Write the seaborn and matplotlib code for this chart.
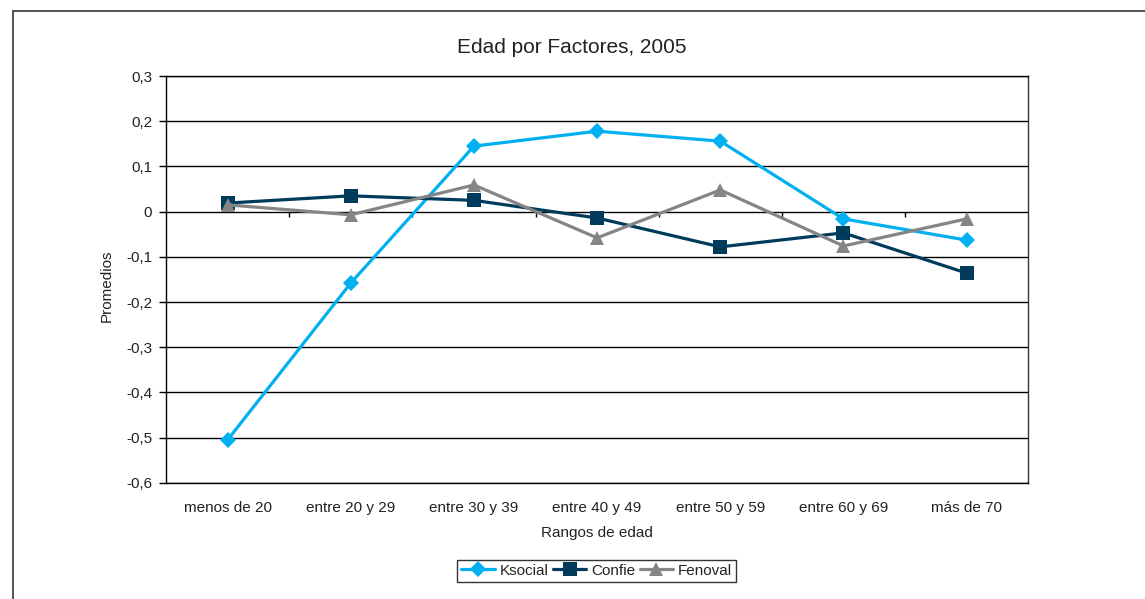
import pandas as pd
import numpy as np
import matplotlib.pyplot as plt
import matplotlib.patches as mpatches
import seaborn as sns

# --- data ---
rangos = ['menos de 20', 'entre 20 y 29', 'entre 30 y 39', 'entre 40 y 49',
          'entre 50 y 59', 'entre 60 y 69', 'más de 70']
ksocial = [-0.505, -0.158, 0.145, 0.178, 0.156, -0.016, -0.063]
confie = [0.019, 0.035, 0.025, -0.014, -0.078, -0.047, -0.136]
fenoval = [0.015, -0.007, 0.059, -0.058, 0.048, -0.076, -0.016]
yticks = [0.3, 0.2, 0.1, 0, -0.1, -0.2, -0.3, -0.4, -0.5, -0.6]
ytick_labels = ['0,3', '0,2', '0,1', '0', '-0,1', '-0,2', '-0,3', '-0,4', '-0,5', '-0,6']

df = pd.DataFrame({'pos': range(len(rangos)), 'Ksocial': ksocial,
                   'Confie': confie, 'Fenoval': fenoval})
long = df.melt(id_vars='pos', var_name='Factor', value_name='Promedio')

# --- style ---
sns.set_style('white')
plt.rcParams['font.family'] = ['Liberation Sans', 'DejaVu Sans']
txt = '#222222'

palette = {'Ksocial': '#00B0F0', 'Confie': '#003B5C', 'Fenoval': '#858585'}
markers = {'Ksocial': 'D', 'Confie': 's', 'Fenoval': '^'}
msizes = {'Ksocial': 8, 'Confie': 9.5, 'Fenoval': 10}

fig = plt.figure(figsize=(11.45, 5.99), dpi=100)
ax = fig.add_axes([0.145, 0.194, 0.753, 0.679])

for name in ['Ksocial', 'Confie', 'Fenoval']:
    sns.lineplot(data=long[long['Factor'] == name], x='pos', y='Promedio',
                 color=palette[name], marker=markers[name], markersize=msizes[name],
                 markeredgewidth=0, linewidth=2.3, label=name, ax=ax, zorder=3)

# horizontal grid
for v in yticks:
    ax.axhline(v, color='black', lw=1.0, zorder=1)
# category boundary ticks on the zero line
ax.vlines(np.arange(0.5, len(rangos) - 1, 1), -0.011, 0, color='black', lw=1.0, zorder=1)

ax.set_xlim(-0.5, len(rangos) - 0.5)
ax.set_ylim(-0.6, 0.3)
ax.set_xticks(range(len(rangos)))
ax.set_xticklabels(rangos, fontsize=11, color=txt)
ax.set_yticks(yticks)
ax.set_yticklabels(ytick_labels, fontsize=11, color=txt)
ax.tick_params(axis='x', length=0, pad=13)
ax.tick_params(axis='y', length=5, width=1, color='black', pad=5, left=True)

for s in ax.spines.values():
    s.set_color('black')
    s.set_linewidth(1.0)
ax.spines['right'].set_color('#333333')

ax.set_xlabel('Rangos de edad', fontsize=11, color=txt, labelpad=8)
ax.set_ylabel('Promedios', fontsize=11, color=txt)
ax.yaxis.set_label_coords(-0.061, 0.485)
fig.text(0.499, 0.921, 'Edad por Factores, 2005', fontsize=15, color=txt,
         ha='center', va='center')

ax.get_legend().remove()
handles, labels = ax.get_legend_handles_labels()
leg = fig.legend(handles, labels, loc='center', bbox_to_anchor=(0.521, 0.047),
                 ncol=3, fontsize=11, frameon=True, fancybox=False,
                 edgecolor='black', handlelength=2.2, handletextpad=0.3,
                 columnspacing=0.3, borderpad=0.25, borderaxespad=0)
leg.get_frame().set_linewidth(1.0)
for t in leg.get_texts():
    t.set_color(txt)

# outer chart frame
fig.add_artist(mpatches.Rectangle((13 / 1145, -0.1), 1.2, 1.1 - 11 / 599,
                                  transform=fig.transFigure, fill=False,
                                  ec='#444444', lw=1.3))

fig.savefig('out.png', dpi=100)
